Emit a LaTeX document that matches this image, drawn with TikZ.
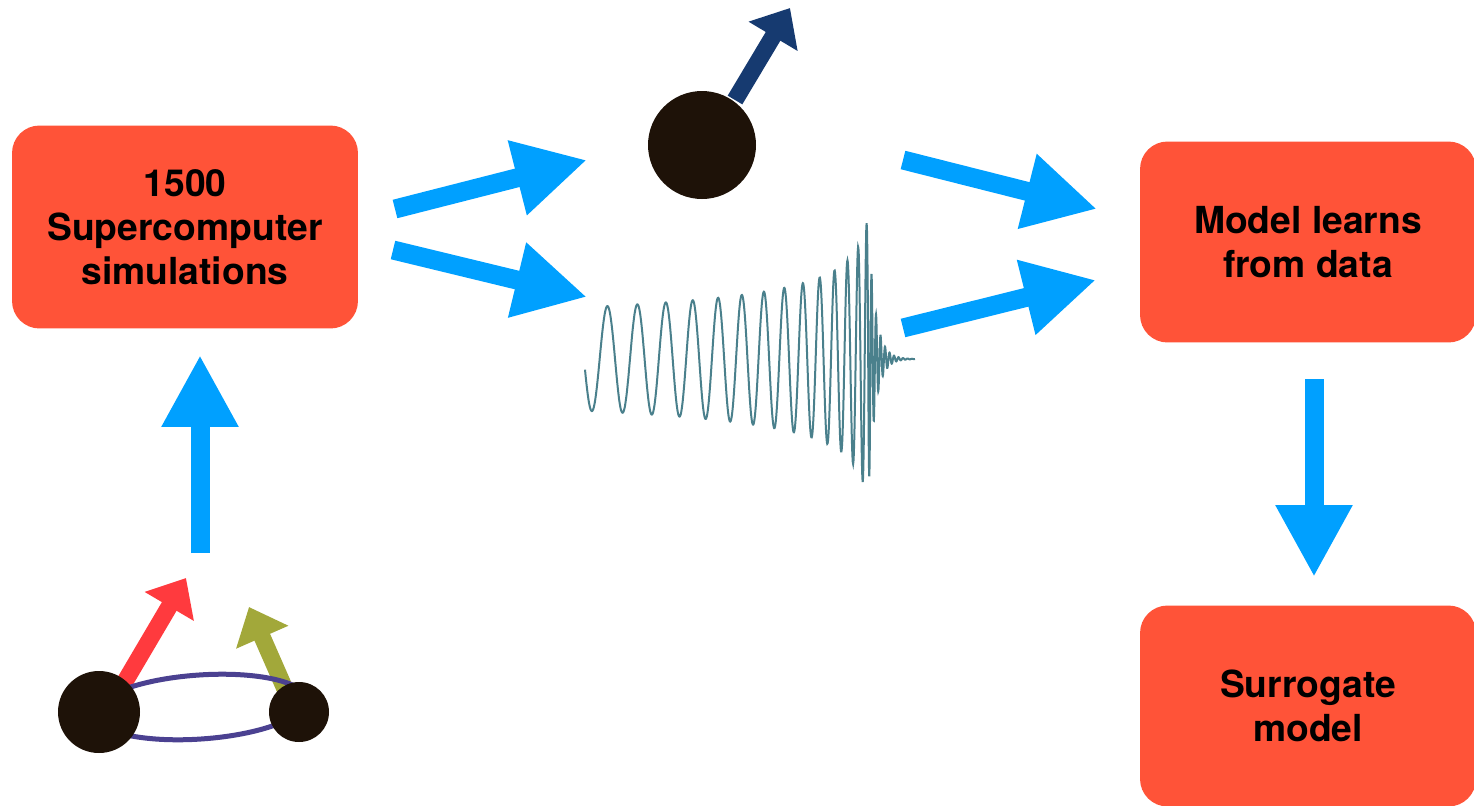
\documentclass[tikz,border=0pt]{standalone}
\usepackage{fontspec}
\setmainfont{TeX Gyre Heros}
\usetikzlibrary{arrows.meta}
\definecolor{boxred}{RGB}{255,83,56}
\definecolor{flowblue}{RGB}{0,160,255}
\definecolor{hole}{RGB}{30,18,8}
\definecolor{spinnavy}{RGB}{22,58,112}
\definecolor{spinred}{RGB}{255,58,62}
\definecolor{spinolive}{RGB}{162,168,58}
\definecolor{orbit}{RGB}{75,65,145}
\definecolor{strain}{RGB}{74,128,140}
\begin{document}
\begin{tikzpicture}[x=0.02cm,y=-0.02cm,
  box/.style={fill=boxred,rounded corners=0.55cm,align=center,
    font=\bfseries\fontsize{21.2}{25}\selectfont},
  flow/.style={flowblue,line width=0.38cm,-{Triangle[length=1.44cm,width=1.44cm]}},
  spin/.style={line width=0.34cm,-{Triangle[length=0.66cm,width=1.1cm]}}]
  \path[use as bounding box,fill=white] (0,0) rectangle (1474,805);

  \node[box,minimum width=6.92cm,minimum height=4.06cm] (sims) at (185,227) {1500\\Supercomputer\\simulations};
  \node[box,minimum width=6.72cm,minimum height=4.02cm] (learn) at (1308,242) {Model learns\\from data};
  \node[box,minimum width=6.72cm,minimum height=4.02cm] (surrogate) at (1308,706) {Surrogate\\model};

  \begin{scope}
    \draw[spin,spinred] (120,690) -- (186,578);
    \draw[spin,spinolive] (292,705) -- (249,607);
    \draw[orbit,line width=0.1cm,rotate around={4:(200,707)}] (200,707) ellipse [x radius=107,y radius=32];
    \fill[hole] (99,712) circle (41);
    \fill[hole] (299,712) circle (30);
  \end{scope}

  \begin{scope}
    \draw[spin,spinnavy] (735,100) -- (790,8);
    \fill[hole] (702,145) circle (54);
  \end{scope}

  \draw[strain,line width=0.04cm]
    plot[domain=290:7,samples=800] ({875-\x},{359+53*pow(\x/265,-0.275)*cos(211.4*pow(\x,0.58)+172)})
    -- plot[domain=0:47,samples=300] ({868+\x},{359+141*exp(-\x/7)*cos(211.4*pow(7,0.58)+172-80*\x)});

  \coordinate (binTop) at (200,553);
  \coordinate (simsIn) at (200,355);
  \coordinate (simsOutA) at (395,209);
  \coordinate (remnantIn) at (587,160);
  \coordinate (simsOutB) at (393,250);
  \coordinate (waveIn) at (587,297);
  \coordinate (remnantOut) at (903,160);
  \coordinate (learnInA) at (1097,209);
  \coordinate (waveOut) at (903,328);
  \coordinate (learnInB) at (1096,280);
  \coordinate (learnOut) at (1314,379);
  \coordinate (surrogateIn) at (1314,577);

  \draw[flow] (binTop) -- (simsIn);
  \draw[flow] (simsOutA) -- (remnantIn);
  \draw[flow] (simsOutB) -- (waveIn);
  \draw[flow] (remnantOut) -- (learnInA);
  \draw[flow] (waveOut) -- (learnInB);
  \draw[flow] (learnOut) -- (surrogateIn);
\end{tikzpicture}
\end{document}
